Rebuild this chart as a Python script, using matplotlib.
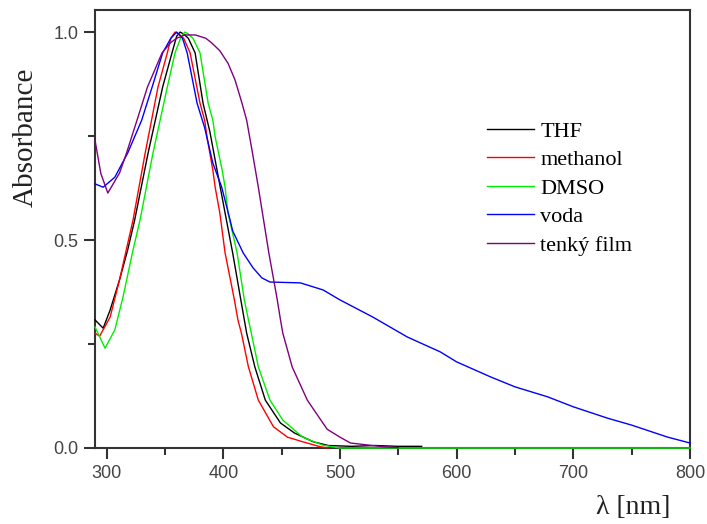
import numpy as np
import matplotlib
matplotlib.use("Agg")
import matplotlib.pyplot as plt
from matplotlib.ticker import MultipleLocator

# spectra (wavelength nm, normalised absorbance)
thf_x = [290, 297, 303, 311, 318, 324, 335.5, 348, 356, 360, 363, 366, 370, 375.8, 382.6, 388.5, 394.6,
         401.5, 408, 415, 418, 420, 427, 436, 449, 461, 477, 490, 510, 530, 550, 570]
thf_y = [0.308, 0.288, 0.332, 0.404, 0.476, 0.548, 0.709, 0.868, 0.95, 0.99, 1.0, 0.995, 0.985, 0.95, 0.829, 0.76, 0.668,
         0.565, 0.469, 0.356, 0.308, 0.276, 0.195, 0.115, 0.060, 0.036, 0.015, 0.006, 0.004, 0.006, 0.004, 0.004]

meoh_x = [290, 294, 303, 311, 322.6, 333, 344, 352, 355, 358.6, 362, 366, 371.5, 380, 384, 386, 391, 393, 397,
          401.5, 409.5, 412.5, 415.5, 421.5, 430, 443, 455, 468, 483, 490]
meoh_y = [0.276, 0.269, 0.315, 0.404, 0.548, 0.709, 0.868, 0.95, 0.985, 1.0, 0.995, 0.985, 0.95, 0.829, 0.788, 0.748, 0.668, 0.627, 0.565,
          0.469, 0.356, 0.308, 0.276, 0.195, 0.115, 0.051, 0.026, 0.015, 0.003, 0.0]

dmso_x = [290, 298.6, 307, 314, 322.6, 328.6, 339.7, 352, 358.6, 364, 367, 370, 374, 380, 387, 391, 393, 399, 401.5,
          404, 411.8, 418, 421.5, 424, 430, 440, 451, 468, 485, 500, 800]
dmso_y = [0.291, 0.240, 0.284, 0.363, 0.476, 0.548, 0.709, 0.868, 0.95, 0.99, 1.0, 0.995, 0.985, 0.95, 0.829, 0.788, 0.748, 0.668, 0.627,
          0.565, 0.469, 0.356, 0.308, 0.276, 0.195, 0.115, 0.067, 0.026, 0.007, 0.0, 0.0]

voda_x = [290, 297, 307, 318, 330, 339, 348, 355, 360, 365, 369, 377.5, 384, 391, 398.5, 405.8, 408, 417, 425.5,
          433, 440, 466, 485.5, 500, 528, 557.6, 586, 600, 629, 650, 678, 700, 729, 750, 781, 800]
voda_y = [0.635, 0.627, 0.651, 0.709, 0.788, 0.868, 0.95, 0.985, 1.0, 0.985, 0.95, 0.829, 0.77, 0.685, 0.628, 0.548, 0.522, 0.469, 0.433,
          0.409, 0.399, 0.397, 0.380, 0.356, 0.315, 0.267, 0.231, 0.207, 0.171, 0.147, 0.123, 0.099, 0.072, 0.055, 0.026, 0.012]

film_x = [290, 295, 301, 311, 317, 326, 335, 347.5, 355, 360, 367, 376, 385, 390, 397, 404, 410, 416, 420, 425, 430,
          439, 446, 449, 451, 459, 472, 489, 500, 509, 537, 550]
film_y = [0.74, 0.66, 0.613, 0.661, 0.709, 0.788, 0.868, 0.95, 0.975, 0.985, 0.993, 0.993, 0.985, 0.974, 0.955, 0.925, 0.885, 0.829, 0.788, 0.709, 0.627,
          0.469, 0.36, 0.308, 0.276, 0.195, 0.115, 0.045, 0.026, 0.012, 0.003, 0.001]

labels = ["THF", "methanol", "DMSO", "voda", "tenký film"]
colors = ["#000000", "#ff0000", "#00ee00", "#0000ff", "#800080"]

fig = plt.figure(figsize=(7.07, 5.24), dpi=100)
ax = fig.add_axes([95 / 707, 1 - 448 / 524, 595 / 707, 438 / 524])

series = [(thf_x, thf_y), (meoh_x, meoh_y), (dmso_x, dmso_y), (voda_x, voda_y), (film_x, film_y)]
for (xs, ys), lab, col in zip(series, labels, colors):
    ax.plot(xs, ys, color=col, lw=1.0, label=lab, zorder=3, clip_on=False)

ax.set_xlim(290, 800)
ax.set_ylim(0, 1.053)
ax.xaxis.set_major_locator(MultipleLocator(100))
ax.xaxis.set_minor_locator(MultipleLocator(50))
ax.yaxis.set_major_locator(MultipleLocator(0.5))
ax.yaxis.set_minor_locator(MultipleLocator(0.25))
ax.yaxis.set_major_formatter(matplotlib.ticker.FormatStrFormatter("%.1f"))

for s in ax.spines.values():
    s.set_linewidth(1.5)
    s.set_color("#333333")
ax.tick_params(which="major", direction="out", length=8, width=1.5, color="#333333",
               labelsize=13, labelcolor="#444444", pad=4)
ax.tick_params(which="minor", direction="out", length=5, width=1.5, color="#333333")
ax.tick_params(top=False, right=False)
for t in ax.get_xticklabels() + ax.get_yticklabels():
    t.set_family("Liberation Sans")

leg = ax.legend(loc="upper left", bbox_to_anchor=(487 / 707, 1 - 121 / 524),
                bbox_transform=fig.transFigure, frameon=False, borderpad=0, borderaxespad=0,
                handlelength=2.1, handletextpad=0.3, labelspacing=0.36,
                prop={"family": "Liberation Serif", "size": 16})

fig.text(26 / 707, 1 - 137 / 524, "Absorbance", rotation=90, ha="center", va="center",
         family="Liberation Serif", fontsize=21, color="#222222")
fig.text(633 / 707, 1 - 507 / 524, "λ [nm]", ha="center", va="center",
         family="Liberation Serif", fontsize=20, color="#222222")

fig.savefig("out.png", dpi=100)
